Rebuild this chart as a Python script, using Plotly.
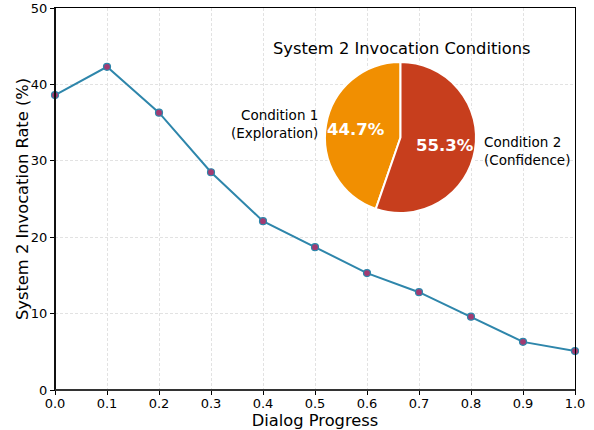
import math
import plotly.graph_objects as go

progress = [0.0, 0.1, 0.2, 0.3, 0.4, 0.5, 0.6, 0.7, 0.8, 0.9, 1.0]
rate = [38.6, 42.3, 36.3, 28.5, 22.1, 18.7, 15.3, 12.8, 9.6, 6.3, 5.1]
pie_labels = ["Condition 1<br>(Exploration)", "Condition 2<br>(Confidence)"]
pie_values = [44.7, 55.3]
pie_colors = ["#F18F01", "#C73E1D"]

FONT = "DejaVu Sans"
W, H = 594, 430
L, T = 55, 8
PW, PH = 520, 382
R = W - L - PW
B = H - T - PH


def px(x):
    return (x - L) / PW


def py(y):
    return (T + PH - y) / PH


# pie geometry (pixels)
CX, CY, RAD = 400.5, 137.5, 75.5

fig = go.Figure()
fig.add_trace(go.Scatter(
    x=progress, y=rate, mode="lines+markers",
    line=dict(color="#2E86AB", width=2),
    marker=dict(color="#A23B72", size=7, line=dict(color="#2E86AB", width=1.2)),
    showlegend=False, cliponaxis=False,
))
total = sum(pie_values)
fig.add_trace(go.Pie(
    labels=pie_labels, values=pie_values, sort=False,
    direction="clockwise", rotation=-360 * pie_values[0] / total,
    marker=dict(colors=pie_colors, line=dict(color="white", width=2)),
    textinfo="none",
    domain=dict(x=[px(CX - RAD), px(CX + RAD)], y=[py(CY + RAD), py(CY - RAD)]),
    showlegend=False, hoverinfo="label+percent",
))

# percentage labels at 0.6 radius, counterclockwise from 12 o'clock
start = 90.0
for v in pie_values:
    span = 360 * v / total
    mid = math.radians(start + span / 2)
    ax = CX + 0.6 * RAD * math.cos(mid)
    ay = CY - 0.6 * RAD * math.sin(mid)
    fig.add_annotation(x=px(ax), y=py(ay), xref="paper", yref="paper",
                       text=f"{100 * v / total:.1f}%", showarrow=False,
                       font=dict(size=16.5, family=FONT, color="white", weight="bold"),
                       xanchor="center", yanchor="middle")
    start += span

fig.add_annotation(x=px(402), y=py(48), xref="paper", yref="paper",
                   text="System 2 Invocation Conditions", showarrow=False,
                   font=dict(size=16.3, family=FONT, color="black"), xanchor="center", yanchor="middle")
fig.add_annotation(x=px(320), y=py(124), xref="paper", yref="paper",
                   text=pie_labels[0], showarrow=False, align="right",
                   font=dict(size=13.5, family=FONT, color="black"), xanchor="right", yanchor="middle")
fig.add_annotation(x=px(482), y=py(151), xref="paper", yref="paper",
                   text=pie_labels[1], showarrow=False, align="left",
                   font=dict(size=13.5, family=FONT, color="black"), xanchor="left", yanchor="middle")

axis_common = dict(
    showline=True, linecolor="black", linewidth=1, mirror=True,
    ticks="outside", ticklen=4, tickcolor="black", automargin=False,
    showgrid=True, gridcolor="#e2e2e2", griddash="3px,2px", gridwidth=0.8,
    zeroline=False, tickfont=dict(size=13, family=FONT, color="black"),
    ticklabeloverflow="allow",
)
fig.update_xaxes(range=[0, 1], dtick=0.1, tickformat=".1f", ticklabelstandoff=-3,
                 title=dict(text="Dialog Progress", font=dict(size=16.3, family=FONT, color="black"), standoff=0),
                 **axis_common)
fig.update_yaxes(range=[0, 50], dtick=10,
                 **axis_common)
fig.add_annotation(x=px(22), y=py(199), xref="paper", yref="paper", xanchor="center", yanchor="middle",
                   text="System 2 Invocation Rate (%)", textangle=-90, showarrow=False,
                   font=dict(size=16.3, family=FONT, color="black"))
# heavier left and bottom spines
fig.add_shape(type="line", xref="paper", yref="paper", x0=0, x1=0, y0=0, y1=1,
              line=dict(color="#111111", width=2))
fig.add_shape(type="line", xref="paper", yref="paper", x0=0, x1=1, y0=0, y1=0,
              line=dict(color="#333333", width=2))
fig.update_layout(
    width=W, height=H, margin=dict(l=L, r=R, t=T, b=B, autoexpand=False),
    plot_bgcolor="white", paper_bgcolor="white",
    font=dict(family=FONT),
)
fig.write_html("out.html", post_script="document.body.style.margin='0';",
               config={"displayModeBar": False})
